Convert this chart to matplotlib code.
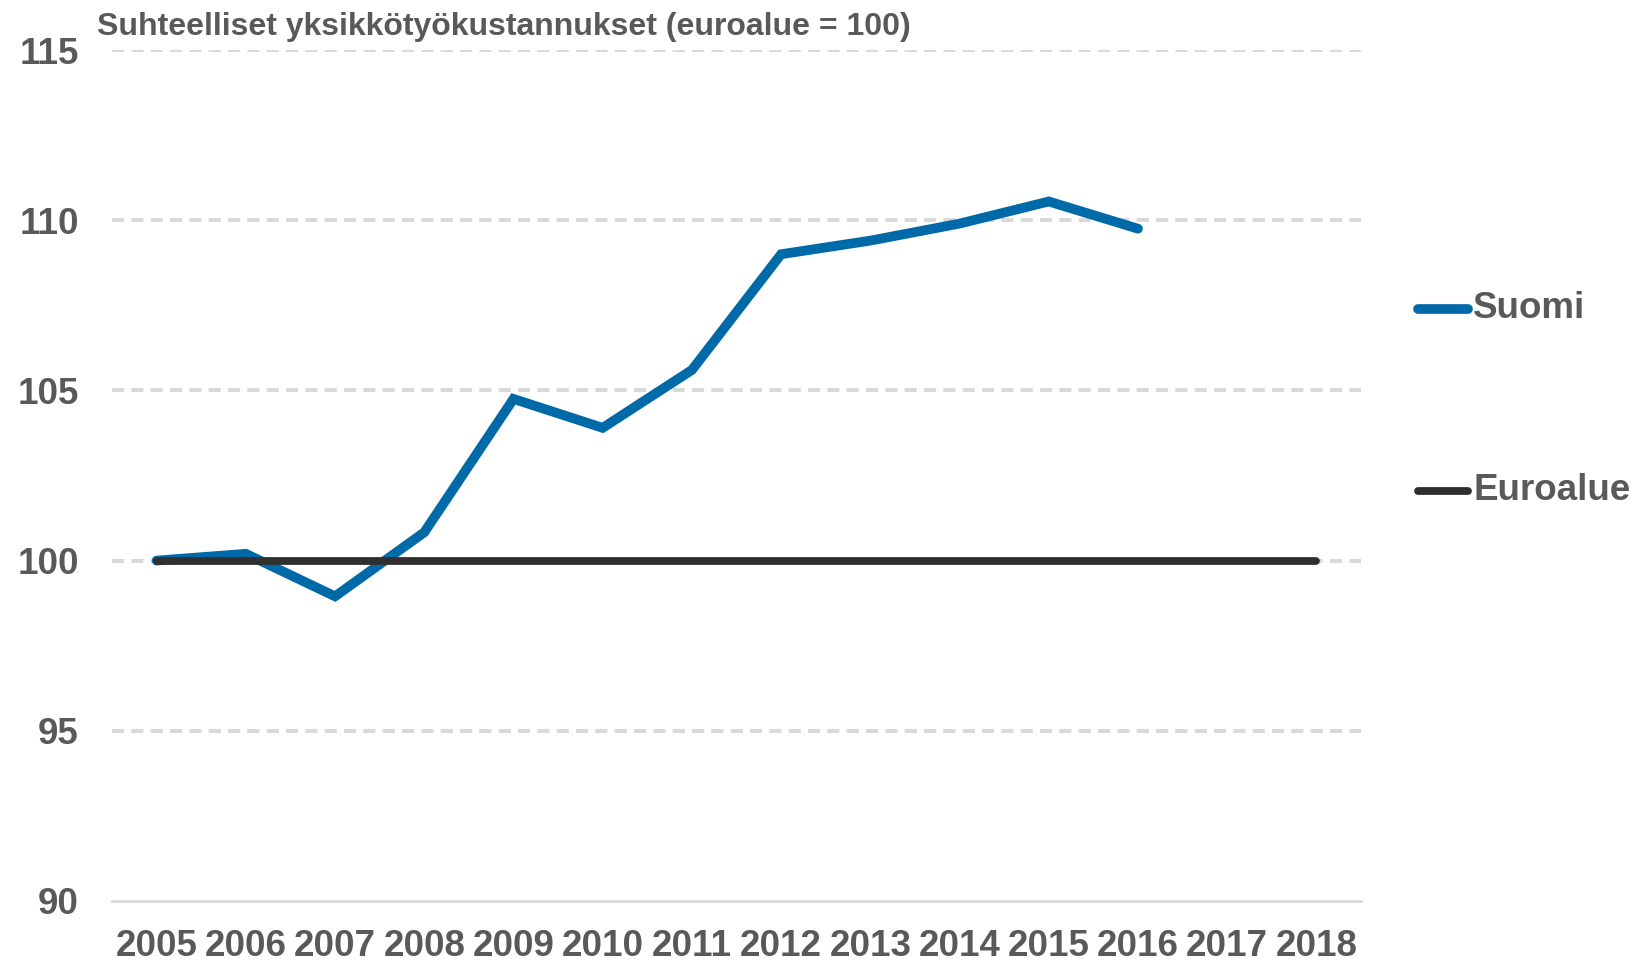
import matplotlib
matplotlib.use("Agg")
import matplotlib.pyplot as plt
from matplotlib.lines import Line2D

years = ["2005", "2006", "2007", "2008", "2009", "2010", "2011", "2012",
         "2013", "2014", "2015", "2016", "2017", "2018"]
suomi = [100.0, 100.2, 98.95, 100.83, 104.75, 103.9, 105.6, 109.0,
         109.4, 109.9, 110.55, 109.75]
euroalue = [100.0] * 14
series_names = ["Suomi", "Euroalue"]
yticks = [90, 95, 100, 105, 110, 115]
title = "Suhteelliset yksikkötyökustannukset (euroalue = 100)"

BLUE = "#006AA8"
DARK = "#2F2F2F"
GRAY_TXT = "#595959"
GRID = "#D9D9D9"

plt.rcParams['font.family'] = ['Liberation Sans', 'DejaVu Sans']

W, H = 1637, 960
fig = plt.figure(figsize=(W / 100, H / 100), dpi=100)
ax = fig.add_axes([112 / W, 1 - 901 / H, (1361 - 112) / W, (901 - 50) / H])

x_s = list(range(len(suomi)))
x_e = list(range(len(euroalue)))
ax.plot(x_s, suomi, color=BLUE, lw=7.0, solid_capstyle='round',
        solid_joinstyle='miter', zorder=3)
ax.plot(x_e, euroalue, color=DARK, lw=5.6, solid_capstyle='round', zorder=4)

ax.set_xlim(-0.5, len(years) - 0.5)
ax.set_ylim(90, 115)
ax.set_yticks(yticks)
ax.set_yticklabels([str(t) for t in yticks])
ax.set_xticks(range(len(years)))
ax.set_xticklabels(years)

for t in yticks[1:]:
    ax.axhline(t, color=GRID, lw=2.9, dashes=(3.0, 1.8), zorder=1)

for s in ["top", "right", "left"]:
    ax.spines[s].set_visible(False)
ax.spines["bottom"].set_color(GRID)
ax.spines["bottom"].set_linewidth(2.0)

ax.tick_params(axis='both', length=0, labelsize=26.5, labelcolor=GRAY_TXT)
ax.tick_params(axis='y', pad=24)
ax.tick_params(axis='x', pad=20)
for lab in ax.get_xticklabels() + ax.get_yticklabels():
    lab.set_fontweight('bold')

fig.text(97 / W, 1 - 35 / H, title, fontsize=23, fontweight='bold',
         color=GRAY_TXT, ha='left', va='baseline')

# legend
leg_colors = [BLUE, DARK]
leg_lw = [7.0, 5.6]
leg_y = [309, 491]
for name, c, lw, yy in zip(series_names, leg_colors, leg_lw, leg_y):
    fig.add_artist(Line2D([1418 / W, 1468 / W], [1 - yy / H, 1 - yy / H],
                          transform=fig.transFigure, color=c, lw=lw,
                          solid_capstyle='round'))
    fig.text(1473 / W, 1 - yy / H, name, fontsize=26.5, fontweight='bold',
             color=GRAY_TXT, ha='left', va='center')

fig.savefig("out.png", dpi=100)
